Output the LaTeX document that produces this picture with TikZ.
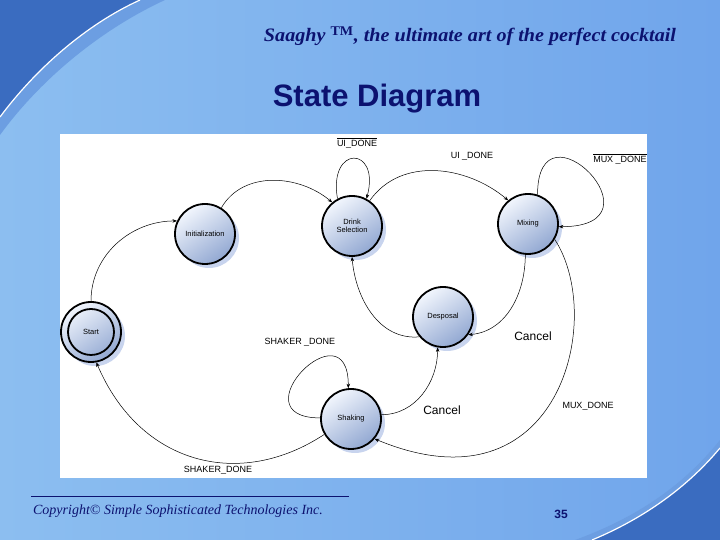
\documentclass[tikz,border=0pt]{standalone}
\usepackage{fontspec}
\setmainfont{Liberation Serif}
\setsansfont{Liberation Sans}
\usetikzlibrary{arrows.meta,shadows}
\definecolor{navy}{RGB}{12,18,112}
\definecolor{bgL}{RGB}{140,190,240}
\definecolor{bgM}{RGB}{172,212,246}
\definecolor{bgR}{RGB}{112,165,235}
\definecolor{darkband}{RGB}{58,108,192}
\definecolor{midband}{RGB}{108,158,226}
\definecolor{stateL}{RGB}{242,246,253}
\definecolor{stateR}{RGB}{146,168,210}
\definecolor{shadowc}{RGB}{200,212,238}
\begin{document}
\begin{tikzpicture}[x=1pt,y=1pt,
  state/.style={circle, draw=black, line width=1.8pt, minimum size=60pt, inner sep=0pt,
    top color=stateL, bottom color=stateR, shading angle=35, align=center,
    font=\sffamily\fontsize{7.5}{8.5}\selectfont,
    drop shadow={shadow xshift=4pt, shadow yshift=-4pt, fill=shadowc, opacity=1}},
  trans/.style={line width=0.5pt, -{Stealth[length=4.5pt,width=3.5pt]}},
  lbl/.style={font=\sffamily\fontsize{9}{10}\selectfont},
  cancel/.style={font=\sffamily\fontsize{12}{13}\selectfont}]
\useasboundingbox (0,0) rectangle (720,540);
% slide background
\shade[left color=bgL, middle color=bgM, right color=bgR] (0,0) rectangle (720,540);
\fill[midband] (0,405) .. controls (40,460) and (100,510) .. (165,540) -- (0,540) -- cycle;
\fill[darkband] (0,423) .. controls (35,470) and (85,515) .. (140,540) -- (0,540) -- cycle;
\draw[white, line width=1.2pt] (0,423) .. controls (35,470) and (85,515) .. (140,540);
\fill[midband] (720,100) .. controls (680,50) and (630,20) .. (575,0) -- (720,0) -- cycle;
\fill[darkband] (720,92) .. controls (685,50) and (640,20) .. (592,0) -- (720,0) -- cycle;
\draw[white, line width=1.2pt] (720,92) .. controls (685,50) and (640,20) .. (592,0);
% titles
\node[font=\bfseries\itshape\fontsize{19}{22}\selectfont, text=navy, xscale=1.06] (title) at (470,504)
  {Saaghy \textsuperscript{\upshape TM}, the ultimate art of the perfect cocktail};
\node[font=\sffamily\bfseries\fontsize{31}{34}\selectfont, text=navy] (heading) at (377,441) {State Diagram};
% diagram panel
\fill[white] (60,62) rectangle (647,406);
% states
\node[state] (start) at (91,208) {Start};
\draw[line width=1.8pt] (start.center) circle (23);
\node[state] (init) at (205,306) {Initialization};
\node[state] (drink) at (352,314) {Drink\\Selection};
\node[state] (mix) at (528,316) {Mixing};
\node[state] (desp) at (443,223) {Desposal};
\node[state] (shake) at (351,121) {Shaking};
% transitions
\draw[trans] (start.north) to[out=90, in=180] (init.155);
\draw[trans] (init.58) to[out=60, in=140] (drink.130);
\draw[trans] (drink.118) .. controls +(100:55) and +(75:55) .. (drink.62);
\draw[trans] (drink.55) to[out=55, in=140] (mix.130);
\draw[trans] (mix.72) .. controls +(90:100) and +(0:110) .. (mix.-5);
\draw[trans] (mix.-95) to[out=-90, in=5] (desp.-35);
\draw[trans] (desp.-140) to[out=185, in=-85] (drink.-90);
\draw[trans] (shake.8) to[out=0, in=-90] (desp.-100);
\draw[trans] (shake.178) .. controls +(180:85) and +(90:85) .. (shake.95);
\draw[trans] (mix.-30) .. controls (606,222) and (560,24) .. (shake.-40);
\draw[trans] (shake.-150) .. controls (240,50) and (140,75) .. (start.-80);
% labels
\node[lbl] (l1) at (357,397) {$\overline{\mbox{UI\_DONE}}$};
\node[lbl] (l2) at (472,384) {UI \_DONE};
\node[lbl] (l3) at (620,381) {$\overline{\mbox{MUX \_DONE}}$};
\node[cancel] (l4) at (533,204) {Cancel};
\node[cancel] (l5) at (442,130) {Cancel};
\node[lbl] (l6) at (588,134) {MUX\_DONE};
\node[lbl] (l7) at (300,198) {SHAKER \_DONE};
\node[lbl] (l8) at (218,70) {SHAKER\_DONE};
% footer
\draw[navy, line width=0.8pt] (31,44) -- (349,44);
\node[font=\itshape\fontsize{14}{16}\selectfont, text=navy] (copy) at (178,29)
  {Copyright© Simple Sophisticated Technologies Inc.};
\node[font=\sffamily\bfseries\fontsize{12}{14}\selectfont, text=navy] (page) at (561,26) {35};
\end{tikzpicture}
\end{document}
